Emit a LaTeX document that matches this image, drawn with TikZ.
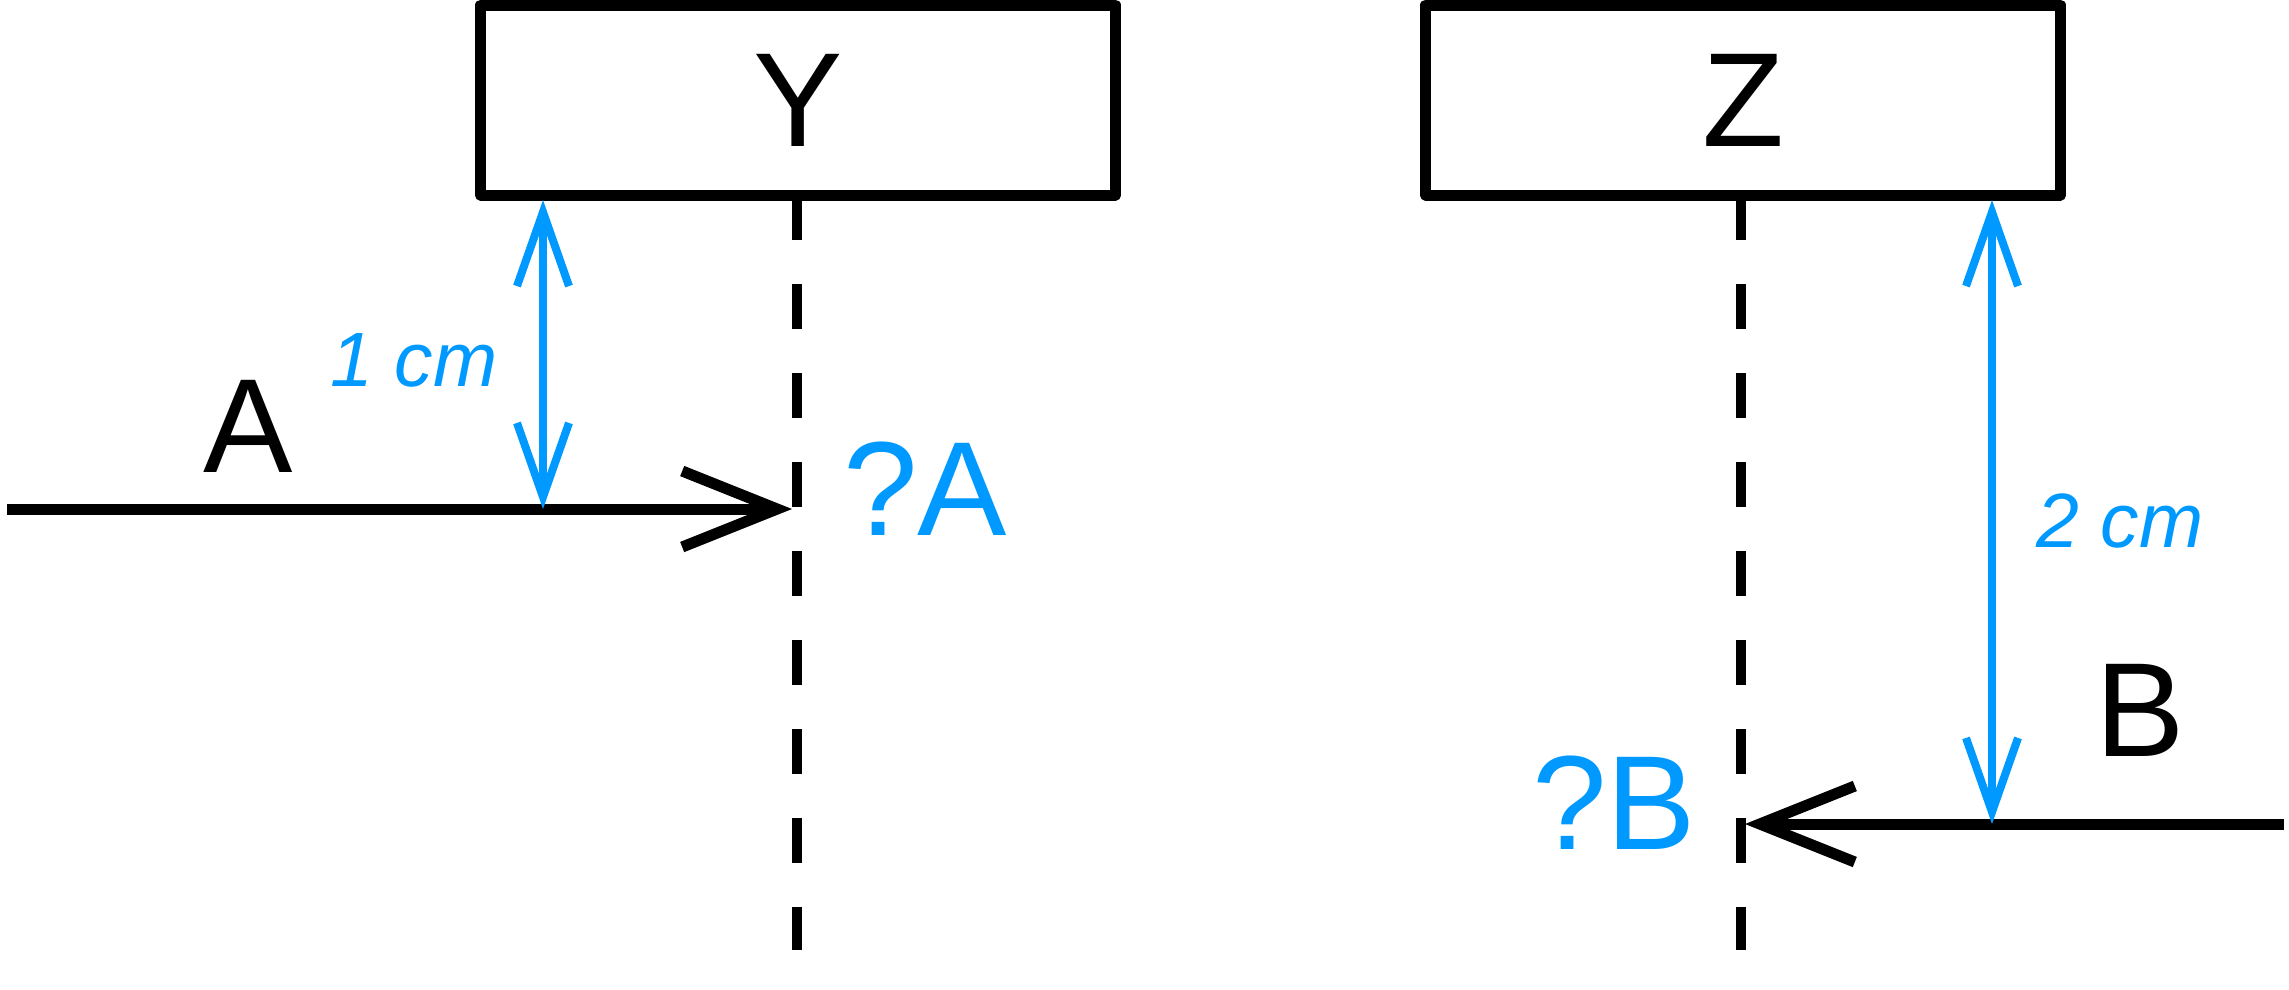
\documentclass[tikz,border=0pt]{standalone}
\usepackage{fontspec}
\setmainfont{Liberation Sans}
\usetikzlibrary{arrows.meta}
\definecolor{dimblue}{RGB}{0,153,255}
\begin{document}
\begin{tikzpicture}[x=1pt,y=-1pt,
  lifebox/.style={draw, line width=11pt, line join=round, minimum width=635pt, minimum height=190pt, inner sep=0pt, font=\fontsize{134}{160}\selectfont},
  lifeline/.style={line width=10pt, dash pattern=on 45pt off 44pt},
  msg/.style={line width=11pt, -{Straight Barb[length=95pt,width=76pt]}},
  dim/.style={dimblue, line width=8pt, {Straight Barb[length=74pt,width=52pt]}-{Straight Barb[length=74pt,width=52pt]}},
  bigtext/.style={font=\fontsize{134}{160}\selectfont, inner sep=0pt},
  dimtext/.style={dimblue, font=\fontsize{77}{90}\selectfont\itshape, inner sep=0pt}]
\useasboundingbox (0,0) rectangle (2289,989);
% lifeline boxes
\node[lifebox] (Y) at (798,100) {Y};
\node[lifebox] (Z) at (1743,100) {Z};
% lifeline ends
\coordinate (Ytop) at (797,195);
\coordinate (Yend) at (797,950);
\coordinate (Ztop) at (1741,195);
\coordinate (Zend) at (1741,950);
\draw[lifeline] (Ytop) -- (Yend);
\draw[lifeline] (Ztop) -- (Zend);
% messages
\coordinate (Astart) at (7,509);
\coordinate (Aend) at (792,509);
\draw[msg] (Astart) -- (Aend);
\coordinate (Bstart) at (2284,824);
\coordinate (Bend) at (1745,824);
\draw[msg] (Bstart) -- (Bend);
% dimension arrows
\coordinate (d1t) at (543,200);
\coordinate (d1b) at (543,509);
\draw[dim] (d1t) -- (d1b);
\coordinate (d2t) at (1992,200);
\coordinate (d2b) at (1992,824);
\draw[dim] (d2t) -- (d2b);
% labels
\node[bigtext] (lA) at (248,426) {A};
\node[bigtext, text=dimblue] (qA) at (925,489) {?A};
\node[dimtext] (l1) at (414,360) {1 cm};
\node[dimtext] (l2) at (2120,521) {2 cm};
\node[bigtext] (lB) at (2140,710) {B};
\node[bigtext, text=dimblue] (qB) at (1614,803) {?B};
\end{tikzpicture}
\end{document}
